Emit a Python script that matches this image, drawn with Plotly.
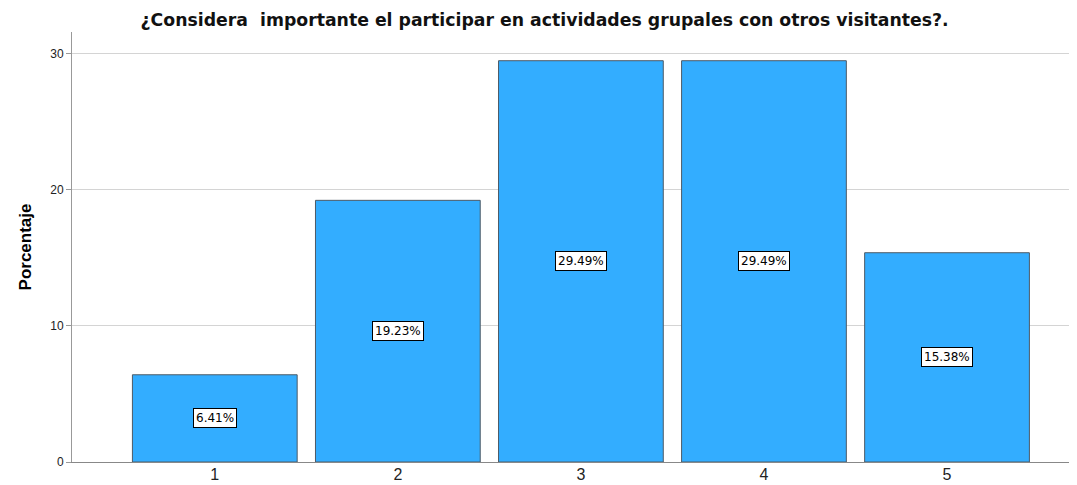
import plotly.graph_objects as go

categorias = [1, 2, 3, 4, 5]
porcentajes = [6.41, 19.23, 29.49, 29.49, 15.38]
etiquetas = ["6.41%", "19.23%", "29.49%", "29.49%", "15.38%"]
titulo = "¿Considera  importante el participar en actividades grupales con otros visitantes?."

fig = go.Figure(go.Bar(
    x=categorias, y=porcentajes, width=0.9,
    marker=dict(color="#33adff", line=dict(color="#4d5a66", width=1)),
    hoverinfo="skip",
))

# etiquetas en el centro de cada barra
for c, v, t in zip(categorias, porcentajes, etiquetas):
    fig.add_annotation(x=c, y=v / 2, text=t, showarrow=False,
                       font=dict(family="DejaVu Sans", size=12, color="black"),
                       bgcolor="white", bordercolor="black", borderwidth=1, borderpad=2)

# la pagina tiene 8px de margen en el body, por eso 1069x477
fig.update_layout(
    width=1069, height=477,
    margin=dict(l=64, r=0, t=24, b=23),
    plot_bgcolor="white", paper_bgcolor="white",
    showlegend=False,
    font=dict(family="Liberation Sans, Arial", color="black"),
    title=dict(text="<b>" + titulo + "</b>", x=0.502, xanchor="center", y=0.975, yanchor="middle",
               font=dict(family="DejaVu Sans", size=17.3, color="#111")),
)
fig.update_xaxes(range=[0.22, 5.71], tickvals=categorias, ticks="", showgrid=False,
                 showline=True, linecolor="#888", linewidth=1, automargin=False,
                 ticklabelstandoff=-2, tickfont=dict(size=16, color="#222"))
fig.update_yaxes(range=[0, 31.6], tickvals=[0, 10, 20, 30], showgrid=True, gridcolor="#d4d4d4",
                 showline=True, linecolor="#999", linewidth=1, ticks="outside", ticklen=5, tickcolor="#999",
                 tickfont=dict(size=12, color="#222"), zeroline=False, automargin=False,
                 title=dict(text="<b>Porcentaje</b>", font=dict(size=17), standoff=14))

fig.write_html("out.html")
